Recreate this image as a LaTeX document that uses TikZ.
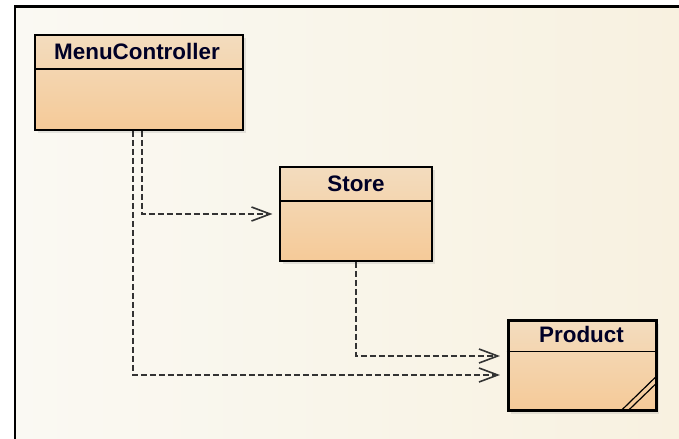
\documentclass[tikz,border=0pt]{standalone}
\usepackage{fontspec}
\setmainfont{Liberation Sans}
\usetikzlibrary{arrows.meta,calc,shadows}

\begin{document}
\begin{tikzpicture}[
    x=0.75pt, y=-0.75pt,
    frame/.style={line width=1.6pt, black},
    classbox/.style={draw=black, line width=1.3pt, top color={rgb,255:red,243;green,220;blue,190},
        bottom color={rgb,255:red,245;green,202;blue,152},
        drop shadow={shadow xshift=2pt, shadow yshift=-2.5pt, opacity=0.18}},
    boldbox/.style={classbox, line width=2.8pt},
    headline/.style={line width=1.1pt, black},
    classtitle/.style={font=\fontsize{16.8}{20}\selectfont\bfseries, text=black!85!blue, inner sep=0pt},
    depends/.style={line width=1.2pt, black!80, dash pattern=on 4.5pt off 2.25pt,
        -{Straight Barb[length=14pt, width=10.5pt, line width=1.2pt]}, shorten >=5pt},
    corner/.style={line width=0.9pt, black}
]
\useasboundingbox (0,0) rectangle (679,439);

% Background and frame
\fill[white] (0,0) rectangle (679,439);
\shade[left color={rgb,255:red,250;green,249;blue,243}, right color={rgb,255:red,248;green,241;blue,224}]
    (15,6) rectangle (679,439);
\draw[frame] (15,439) -- (15,6.5) -- (679,6.5);

% Classes
\node[classbox, minimum width=156pt, minimum height=71.25pt] (menu) at (139,82.5) {};
\node[classbox, minimum width=114pt, minimum height=70.5pt] (store) at (356,214) {};
\node[boldbox, minimum width=111pt, minimum height=67.5pt] (product) at (582.5,365.5) {};

% Header separators
\draw[headline] ($(menu.north west)+(0,35)$) -- ($(menu.north east)+(0,35)$);
\draw[headline] ($(store.north west)+(0,35)$) -- ($(store.north east)+(0,35)$);
\draw[headline] ($(product.north west)+(0,33)$) -- ($(product.north east)+(0,33)$);

% Class names
\node[classtitle] (menutitle) at ($(menu.north)+(-2,17.5)$) {MenuController};
\node[classtitle] (storetitle) at ($(store.north)+(0,17.5)$) {Store};
\node[classtitle] (producttitle) at ($(product.north)+(-1,16)$) {Product};

% Double stroke in the corner of Product
\draw[corner] ($(product.south east)+(-38,-1)$) -- ($(product.south east)+(-1,-37)$);
\draw[corner] ($(product.south east)+(-31,-1)$) -- ($(product.south east)+(-1,-30)$);

% Dependencies
\draw[depends] ($(menu.south)+(3,0)$) |- (store.west);
\draw[depends] ($(menu.south)+(-6,0)$) |- ($(product.west)+(0,9.5)$);
\draw[depends] (store.south) |- ($(product.west)+(0,-9.5)$);

\end{tikzpicture}
\end{document}
